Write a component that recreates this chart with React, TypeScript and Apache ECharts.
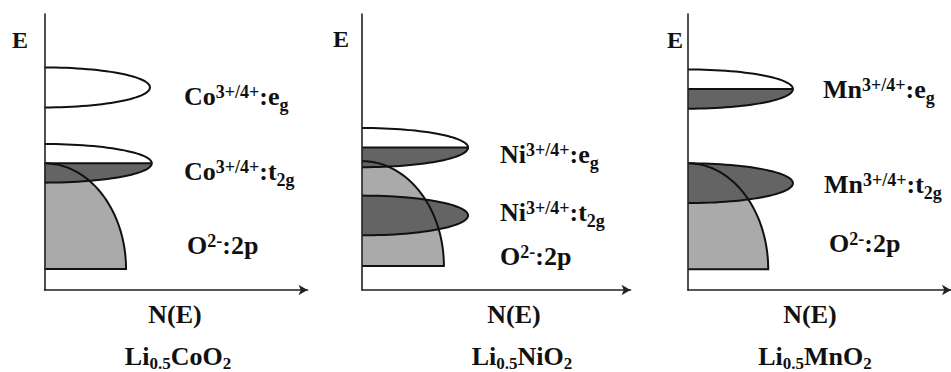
import { useEffect, useRef } from "react";
import * as echarts from "echarts";

// ---- data ----
const compounds = ["Li{sub|0.5}CoO{sub|2}", "Li{sub|0.5}NiO{sub|2}", "Li{sub|0.5}MnO{sub|2}"];
const metals = ["Co", "Ni", "Mn"];
const valence = "3+/4+";
const egOrbital = "e{sub|g}";
const t2gOrbital = "t{sub|2g}";
const oxygenLabel = "O{sup|2-}:2p";
const yAxisName = "E";
const xAxisName = "N(E)";

// d bands: [centre E, half-height E, extent N(E), filled fraction]
const coBands = [
  [7.34, 0.725, 4.01, 0],
  [4.59, 0.7, 4.08, 0.5],
];
const niBands = [
  [5.16, 0.71, 3.95, 0.5],
  [2.7, 0.72, 3.95, 1],
];
const mnBands = [
  [7.28, 0.71, 3.99, 0.5],
  [3.87, 0.72, 3.99, 1],
];
// O 2p band: [top E, bottom E, extent N(E)]
const oBands = [
  [4.59, 0.76, 3.1],
  [4.67, 0.87, 3.05],
  [4.59, 0.75, 3.05],
];
const dBands = [coBands, niBands, mnBands];

// ---- layout / style ----
const FONT = "'Liberation Serif', 'Times New Roman', serif";
const LIGHT = "#aaaaaa";
const DARK = "#646464";
const INK = "#111111";
const grids = [
  { left: 44.5, width: 263 },
  { left: 362, width: 268.5 },
  { left: 688, width: 268.5 },
];
const ePos = [[12, 48], [333, 47], [667, 48]];
const egPos = [[184, 105], [500, 163], [823, 98.5]];
const t2gPos = [[184, 180], [500, 221.5], [824, 193]];
const oPos = [[187, 254], [500, 265], [829, 252]];
const nePos = [[175, 323], [514, 323], [810, 323]];
const compPos = [[178, 365], [522, 365], [815, 365]];

const MAIN = 26;
const SMALL = 18;
const SUP_SHIFT = -7;
const SUB_SHIFT = 6;
const CENTRAL = 0.3375; // central baseline above alphabetic baseline (em)

let measureCtx: CanvasRenderingContext2D | null = null;
function measure(text: string, size: number) {
  if (!measureCtx) measureCtx = document.createElement("canvas").getContext("2d");
  if (!measureCtx) return text.length * size * 0.5;
  measureCtx.font = `bold ${size}px 'Liberation Serif'`;
  return measureCtx.measureText(text).width;
}

function parse(s: string) {
  const out: { text: string; kind: string }[] = [];
  const re = /\{(sup|sub)\|([^}]*)\}/g;
  let last = 0;
  let m: RegExpExecArray | null;
  while ((m = re.exec(s))) {
    if (m.index > last) out.push({ text: s.slice(last, m.index), kind: "m" });
    out.push({ text: m[2], kind: m[1] });
    last = m.index + m[0].length;
  }
  if (last < s.length) out.push({ text: s.slice(last), kind: "m" });
  return out;
}

function label(text: string, x: number, baseline: number, align: "left" | "center", main = MAIN, small = SMALL, subShift = SUB_SHIFT) {
  const parts = parse(text).map((p) => {
    const size = p.kind === "m" ? main : small;
    return { ...p, size, w: measure(p.text, size) };
  });
  const total = parts.reduce((a, p) => a + p.w, 0);
  let cx = align === "center" ? x - total / 2 : x;
  const els: any[] = [];
  parts.forEach((p) => {
    const shift = p.kind === "sup" ? SUP_SHIFT : p.kind === "sub" ? subShift : 0;
    els.push({
      type: "text",
      x: cx,
      y: baseline + shift - CENTRAL * p.size,
      z: 10,
      style: {
        text: p.text,
        fontFamily: FONT,
        fontWeight: "bold",
        fontSize: p.size,
        fill: INK,
        align: "left",
        verticalAlign: "middle",
      },
    });
    cx += p.w;
  });
  return els;
}

function arc(x0: number, cy: number, rx: number, ry: number, a0: number, a1: number, n = 60) {
  const pts: number[][] = [];
  for (let i = 0; i <= n; i++) {
    const a = ((a0 + ((a1 - a0) * i) / n) * Math.PI) / 180;
    pts.push([x0 + rx * Math.cos(a), cy + ry * Math.sin(a)]);
  }
  return pts;
}

function geometry(api: any) {
  const kind = api.value(0);
  const origin = api.coord([0, 0]);
  const x0 = origin[0];
  if (kind === 0) {
    const top = api.coord([0, api.value(1)]);
    const br = api.coord([api.value(3), api.value(2)]);
    return { kind, x0, cy: br[1], rx: br[0] - x0, ry: br[1] - top[1], fill: 0 };
  }
  const c = api.coord([0, api.value(1)]);
  const t = api.coord([0, api.value(1) + api.value(2)]);
  const tip = api.coord([api.value(3), api.value(1)]);
  return { kind, x0, cy: c[1], rx: tip[0] - x0, ry: c[1] - t[1], fill: api.value(4) };
}

function renderFill(_params: any, api: any) {
  const g = geometry(api);
  const children: any[] = [];
  if (g.kind === 0) {
    children.push({
      type: "polygon",
      shape: { points: [[g.x0, g.cy], ...arc(g.x0, g.cy, g.rx, g.ry, -90, 0)] },
      style: { fill: LIGHT },
    });
  } else {
    children.push({
      type: "polygon",
      shape: { points: arc(g.x0, g.cy, g.rx, g.ry, -90, 90) },
      style: { fill: "#ffffff" },
    });
    if (g.fill >= 1) {
      children.push({
        type: "polygon",
        shape: { points: arc(g.x0, g.cy, g.rx, g.ry, -90, 90) },
        style: { fill: DARK },
      });
    } else if (g.fill > 0) {
      children.push({
        type: "polygon",
        shape: { points: [[g.x0, g.cy], ...arc(g.x0, g.cy, g.rx, g.ry, 0, 90)] },
        style: { fill: DARK },
      });
    }
  }
  return { type: "group", children };
}

function renderOutline(_params: any, api: any) {
  const g = geometry(api);
  const stroke = { stroke: INK, lineWidth: 2, fill: null };
  const children: any[] = [];
  if (g.kind === 0) {
    children.push({
      type: "polyline",
      shape: { points: [...arc(g.x0, g.cy, g.rx, g.ry, -90, 0), [g.x0, g.cy]] },
      style: stroke,
    });
  } else {
    children.push({
      type: "polyline",
      shape: { points: arc(g.x0, g.cy, g.rx, g.ry, -90, 90) },
      style: stroke,
    });
    if (g.fill > 0 && g.fill < 1) {
      children.push({
        type: "line",
        shape: { x1: g.x0, y1: g.cy, x2: g.x0 + g.rx, y2: g.cy },
        style: { stroke: INK, lineWidth: 2 },
      });
    }
  }
  return { type: "group", children };
}

export default function App() {
  const ref = useRef<HTMLDivElement>(null);
  useEffect(() => {
    if (!ref.current) return;
    const chart = echarts.init(ref.current, undefined, { renderer: "svg" });
    const gridOpt = grids.map((g) => ({ left: g.left, width: g.width, top: 14, height: 276 }));
    const xAxis = grids.map((_, i) => ({
      type: "value",
      gridIndex: i,
      min: 0,
      max: 10,
      z: 5,
      axisLine: {
        show: true,
        onZero: false,
        symbol: ["none", "arrow"],
        symbolSize: [8, 9],
        lineStyle: { color: "#222", width: 1.6 },
      },
      axisTick: { show: false },
      axisLabel: { show: false },
      splitLine: { show: false },
    }));
    const yAxis = grids.map((_, i) => ({
      type: "value",
      gridIndex: i,
      min: 0,
      max: 10,
      z: 5,
      axisLine: { show: true, onZero: false, lineStyle: { color: "#222", width: 1.6 } },
      axisTick: { show: false },
      axisLabel: { show: false },
      splitLine: { show: false },
    }));
    const series: any[] = [];
    grids.forEach((_, i) => {
      const data = [
        [0, oBands[i][0], oBands[i][1], oBands[i][2], 0],
        ...dBands[i].map((b) => [1, b[0], b[1], b[2], b[3]]),
      ];
      series.push({
        type: "custom",
        name: `fill${i}`,
        xAxisIndex: i,
        yAxisIndex: i,
        z: 2,
        clip: false,
        renderItem: renderFill,
        data,
      });
      series.push({
        type: "custom",
        name: `outline${i}`,
        xAxisIndex: i,
        yAxisIndex: i,
        z: 3,
        clip: false,
        renderItem: renderOutline,
        data,
      });
    });
    const graphics: any[] = [];
    grids.forEach((_, i) => {
      graphics.push(...label(yAxisName, ePos[i][0], ePos[i][1], "left", 24));
      graphics.push(...label(`${metals[i]}{sup|${valence}}:${egOrbital}`, egPos[i][0], egPos[i][1], "left"));
      graphics.push(...label(`${metals[i]}{sup|${valence}}:${t2gOrbital}`, t2gPos[i][0], t2gPos[i][1], "left"));
      graphics.push(...label(oxygenLabel, oPos[i][0], oPos[i][1], "left"));
      graphics.push(...label(xAxisName, nePos[i][0], nePos[i][1], "center", 26));
      graphics.push(...label(compounds[i], compPos[i][0], compPos[i][1], "center", 26, 17, 4));
    });
    chart.setOption({
      animation: false,
      backgroundColor: "#ffffff",
      grid: gridOpt,
      xAxis,
      yAxis,
      series,
      graphic: graphics,
    });
    return () => chart.dispose();
  }, []);
  return (
    <div
      ref={ref}
      style={{ position: "absolute", left: 0, top: 0, width: 951, height: 372 }}
    />
  );
}
